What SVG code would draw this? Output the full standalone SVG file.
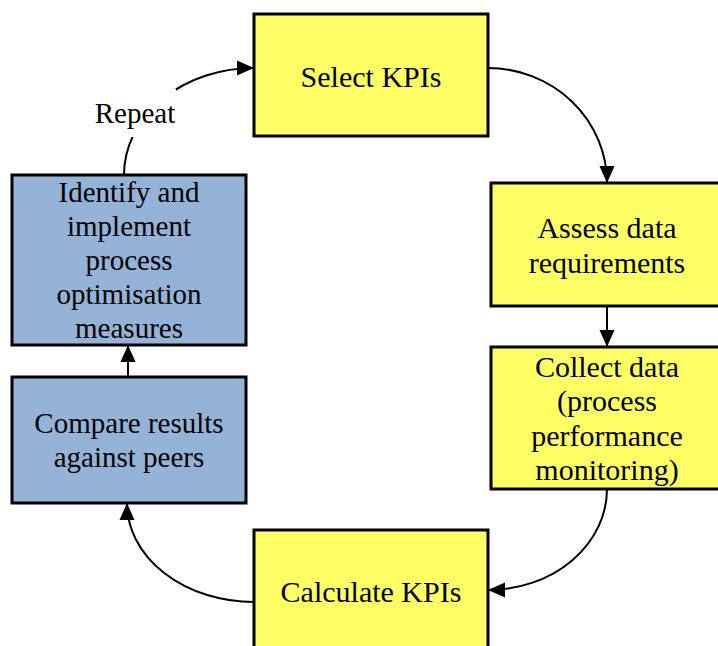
<svg xmlns="http://www.w3.org/2000/svg" width="718" height="646" viewBox="0 0 718 646">
<style>
.box{stroke:#000;stroke-width:3}
.y{fill:#FFFF66}
.b{fill:#95B3D7}
text{font-family:"Liberation Serif","Times New Roman",serif;font-size:29px;fill:#000;text-anchor:middle}
.yt text{font-size:30px}
.c{fill:none;stroke:#000;stroke-width:2}
</style>
<defs>
<marker id="ah" markerUnits="userSpaceOnUse" markerWidth="18" markerHeight="18" refX="17" refY="9" orient="auto">
<path d="M0,1.5 L17,9 L0,16.5 Z" fill="#000"/>
</marker>
</defs>
<rect width="718" height="646" fill="#fff"/>
<g id="connectors">
<path class="c" d="M124,175 A130,107 0 0 1 254,68" marker-end="url(#ah)"/>
<path class="c" d="M488,68 A119,115 0 0 1 607,183" marker-end="url(#ah)"/>
<path class="c" d="M607,306 L607,347" marker-end="url(#ah)"/>
<path class="c" d="M607,489 A119,101 0 0 1 488,590" marker-end="url(#ah)"/>
<path class="c" d="M254,602 A127,99 0 0 1 127,503" marker-end="url(#ah)"/>
<path class="c" d="M128,377 L128,345" marker-end="url(#ah)"/>
</g>
<g id="label-repeat">
<rect x="90" y="89" width="86" height="48" fill="#fff"/>
<text x="135" y="123">Repeat</text>
</g>
<g id="select-kpis" class="yt">
<rect class="box y" x="254" y="14" width="234" height="122"/>
<text x="371" y="87">Select KPIs</text>
</g>
<g id="assess-data" class="yt">
<rect class="box y" x="491" y="183" width="234" height="123"/>
<text x="607" y="238">Assess data</text>
<text x="607" y="273">requirements</text>
</g>
<g id="collect-data" class="yt">
<rect class="box y" x="491" y="347" width="234" height="142"/>
<text x="607" y="377">Collect data</text>
<text x="607" y="411">(process</text>
<text x="607" y="446">performance</text>
<text x="607" y="480">monitoring)</text>
</g>
<g id="calculate-kpis" class="yt">
<rect class="box y" x="254" y="530" width="234" height="124"/>
<text x="371" y="602">Calculate KPIs</text>
</g>
<g id="compare-results">
<rect class="box b" x="12" y="377" width="234" height="126"/>
<text x="129" y="433">Compare results</text>
<text x="129" y="467">against peers</text>
</g>
<g id="identify-implement">
<rect class="box b" x="12" y="175" width="234" height="170"/>
<text x="129" y="202">Identify and</text>
<text x="129" y="236">implement</text>
<text x="129" y="270">process</text>
<text x="129" y="304">optimisation</text>
<text x="129" y="338">measures</text>
</g>
</svg>
